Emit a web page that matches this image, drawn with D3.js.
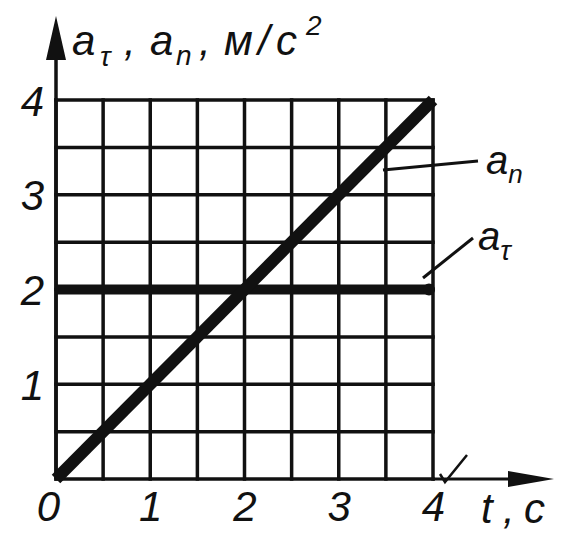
<!DOCTYPE html>
<html><head><meta charset="utf-8">
<script src="https://cdn.jsdelivr.net/npm/d3@7/dist/d3.min.js"></script>
<style>
html,body{margin:0;padding:0;background:#fff;}
svg{display:block;}
text{font-family:"Liberation Sans",Arial,sans-serif;font-style:italic;fill:#111;}
</style></head>
<body>
<svg id="chart" width="576" height="539"></svg>
<script>
// ---- data ----
const tValues = [0, 4];            // t, c
const anValues = [0, 4];           // a_n, m/s^2
const atauValues = [2, 2];         // a_tau, m/s^2
const xTickValues = [0, 1, 2, 3, 4];
const yTickValues = [1, 2, 3, 4];
const gridValues = [0, 0.5, 1, 1.5, 2, 2.5, 3, 3.5, 4];

const svg = d3.select("#chart");
const x = d3.scaleLinear().domain([0, 4]).range([56, 433]);
const y = d3.scaleLinear().domain([0, 4]).range([479, 100]);
const ink = "#111";

// grid
const grid = svg.append("g").attr("stroke", ink).attr("stroke-width", 3.5).attr("stroke-linecap", "square");
grid.selectAll("line.v").data(gridValues).join("line").attr("class", "v")
  .attr("x1", d => x(d)).attr("x2", d => x(d)).attr("y1", y(4)).attr("y2", y(0));
grid.selectAll("line.h").data(gridValues).join("line").attr("class", "h")
  .attr("y1", d => y(d)).attr("y2", d => y(d)).attr("x1", x(0)).attr("x2", x(4));

// axes arrows
svg.append("line").attr("x1", x(0)).attr("x2", x(0)).attr("y1", y(0)).attr("y2", 40)
  .attr("stroke", ink).attr("stroke-width", 3.5);
svg.append("path").attr("d", `M${x(0)},16 L${x(0) - 10},60 L${x(0) + 10},60 Z`).attr("fill", ink);
svg.append("line").attr("x1", x(4)).attr("x2", 530).attr("y1", y(0)).attr("y2", y(0))
  .attr("stroke", ink).attr("stroke-width", 3);
svg.append("path").attr("d", `M554,${y(0)} L508,${y(0) - 8} L508,${y(0) + 8} Z`).attr("fill", ink);
// small check mark near x axis
svg.append("path").attr("d", `M440,474 L445,482 L467,455`).attr("fill", "none")
  .attr("stroke", ink).attr("stroke-width", 2.5);

// data lines
const line = d3.line().x(d => x(d[0])).y(d => y(d[1]));
svg.append("path").datum(tValues.map((t, i) => [t, atauValues[i]])).attr("d", line)
  .attr("fill", "none").attr("stroke", ink).attr("stroke-width", 10);
svg.append("circle").attr("cx", x(tValues[1]) - 4).attr("cy", y(atauValues[1])).attr("r", 6).attr("fill", ink);
svg.append("path").datum(tValues.map((t, i) => [t, anValues[i]])).attr("d", line)
  .attr("fill", "none").attr("stroke", ink).attr("stroke-width", 12).attr("stroke-linecap", "butt");

// tick labels via axes
const xAxis = svg.append("g").attr("transform", `translate(0,${y(0)})`)
  .call(d3.axisBottom(x).tickValues(xTickValues).tickSize(0).tickPadding(12).tickFormat(d3.format("d")));
xAxis.select(".domain").remove();
xAxis.selectAll("text").style("font-size", "42px").attr("dy", "0.72em").attr("fill", ink)
  .attr("dx", d => d === 0 ? -8 : 0);

const yAxis = svg.append("g").attr("transform", `translate(${x(0)},0)`)
  .call(d3.axisLeft(y).tickValues(yTickValues).tickSize(0).tickPadding(12).tickFormat(d3.format("d")));
yAxis.select(".domain").remove();
yAxis.selectAll("text").style("font-size", "42px").attr("dy", "0.36em").attr("fill", ink);

// axis titles
const yt = svg.append("text").attr("y", 55).style("font-size", "42px");
yt.append("tspan").attr("x", 72).text("a");
yt.append("tspan").attr("x", 100).attr("dy", 11).style("font-size", "28px").text("τ");
yt.append("tspan").attr("x", 124).attr("dy", -11).text(",");
yt.append("tspan").attr("x", 150).text("a");
yt.append("tspan").attr("x", 176).attr("dy", 10).style("font-size", "28px").text("n");
yt.append("tspan").attr("x", 199).attr("dy", -10).text(",");
yt.append("tspan").attr("x", 224).text("м");
yt.append("tspan").attr("x", 258).text("/");
yt.append("tspan").attr("x", 276).text("с");
yt.append("tspan").attr("x", 306).attr("dy", -20).style("font-size", "28px").text("2");

const tl = svg.append("text").attr("y", 523).style("font-size", "42px");
tl.append("tspan").attr("x", 481).text("t");
tl.append("tspan").attr("x", 503).text(",");
tl.append("tspan").attr("x", 524).text("c");

// series labels with leaders
svg.append("line").attr("x1", 383).attr("y1", 170).attr("x2", 478).attr("y2", 161)
  .attr("stroke", ink).attr("stroke-width", 3);
const la = svg.append("text").attr("x", 486).attr("y", 174).style("font-size", "40px");
la.append("tspan").text("a");
la.append("tspan").attr("dy", 9).style("font-size", "26px").text("n");

svg.append("line").attr("x1", 423).attr("y1", 278).attr("x2", 473).attr("y2", 238)
  .attr("stroke", ink).attr("stroke-width", 3);
const lt = svg.append("text").attr("x", 478).attr("y", 250).style("font-size", "40px");
lt.append("tspan").text("a");
lt.append("tspan").attr("dy", 10).style("font-size", "28px").text("τ");
</script>
</body></html>
